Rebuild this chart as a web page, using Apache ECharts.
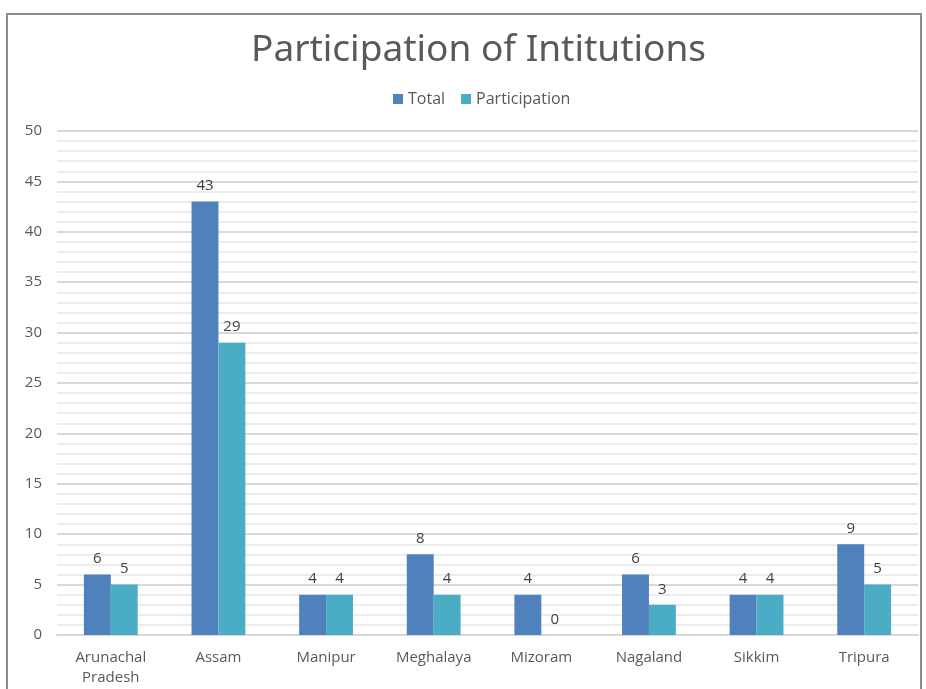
<!DOCTYPE html>
<html>
<head>
<meta charset="utf-8">
<script src="https://cdn.jsdelivr.net/npm/echarts@6/dist/echarts.min.js"></script>
<style>
  html, body { margin: 0; padding: 0; background: #fff; }
  #chart { width: 926px; height: 689px; }
</style>
</head>
<body>
<div id="chart"></div>
<script>
const states = ['Arunachal\nPradesh', 'Assam', 'Manipur', 'Meghalaya', 'Mizoram', 'Nagaland', 'Sikkim', 'Tripura']
const total = [6, 43, 4, 8, 4, 6, 4, 9]
const participation = [5, 29, 4, 4, 0, 3, 4, 5]

const textColor = '#595959'

const chart = echarts.init(document.getElementById('chart'))

const barLabel = {
  show: true,
  position: 'top',
  distance: 8,
  fontSize: 15,
  color: '#404040',
  fontFamily: 'Open Sans'
}

chart.setOption({
  backgroundColor: '#fff',
  graphic: [
    {
      type: 'rect',
      shape: { x: 7, y: 14, width: 914, height: 700 },
      style: { fill: 'none', stroke: '#8c8c8c', lineWidth: 2 },
      silent: true
    }
  ],
  title: {
    text: 'Participation of Intitutions',
    left: 246,
    top: 27,
    textStyle: {
      fontFamily: 'Noto Sans',
      fontWeight: 'normal',
      fontSize: 37,
      color: textColor
    }
  },
  legend: {
    top: 86,
    left: 388,
    itemWidth: 10,
    itemHeight: 10,
    itemGap: 16,
    icon: 'rect',
    textStyle: { fontSize: 16, color: textColor, fontFamily: 'Open Sans' }
  },
  grid: {
    left: 57,
    right: 8,
    top: 131,
    bottom: 54
  },
  xAxis: {
    type: 'category',
    data: states,
    axisLine: { lineStyle: { color: '#d9d9d9', width: 2 } },
    axisTick: { show: false },
    axisLabel: {
      interval: 0,
      fontSize: 15,
      color: textColor,
      margin: 13,
      lineHeight: 20,
      fontFamily: 'Open Sans'
    }
  },
  yAxis: {
    type: 'value',
    min: 0,
    max: 50,
    interval: 5,
    axisLine: { show: false },
    axisTick: { show: false },
    axisLabel: { fontSize: 15, color: textColor, margin: 15, fontFamily: 'Open Sans' },
    splitLine: { lineStyle: { color: '#d9d9d9', width: 2 } },
    minorTick: { show: false, splitNumber: 5 },
    minorSplitLine: { show: true, lineStyle: { color: '#ececec', width: 2 } }
  },
  series: [
    {
      name: 'Total',
      type: 'bar',
      data: total,
      barGap: '0%',
      barCategoryGap: '50%',
      itemStyle: { color: '#4f81bd' },
      label: barLabel
    },
    {
      name: 'Participation',
      type: 'bar',
      data: participation,
      itemStyle: { color: '#4bacc6' },
      label: barLabel
    }
  ]
})

window.addEventListener('resize', () => chart.resize())
</script>
</body>
</html>
